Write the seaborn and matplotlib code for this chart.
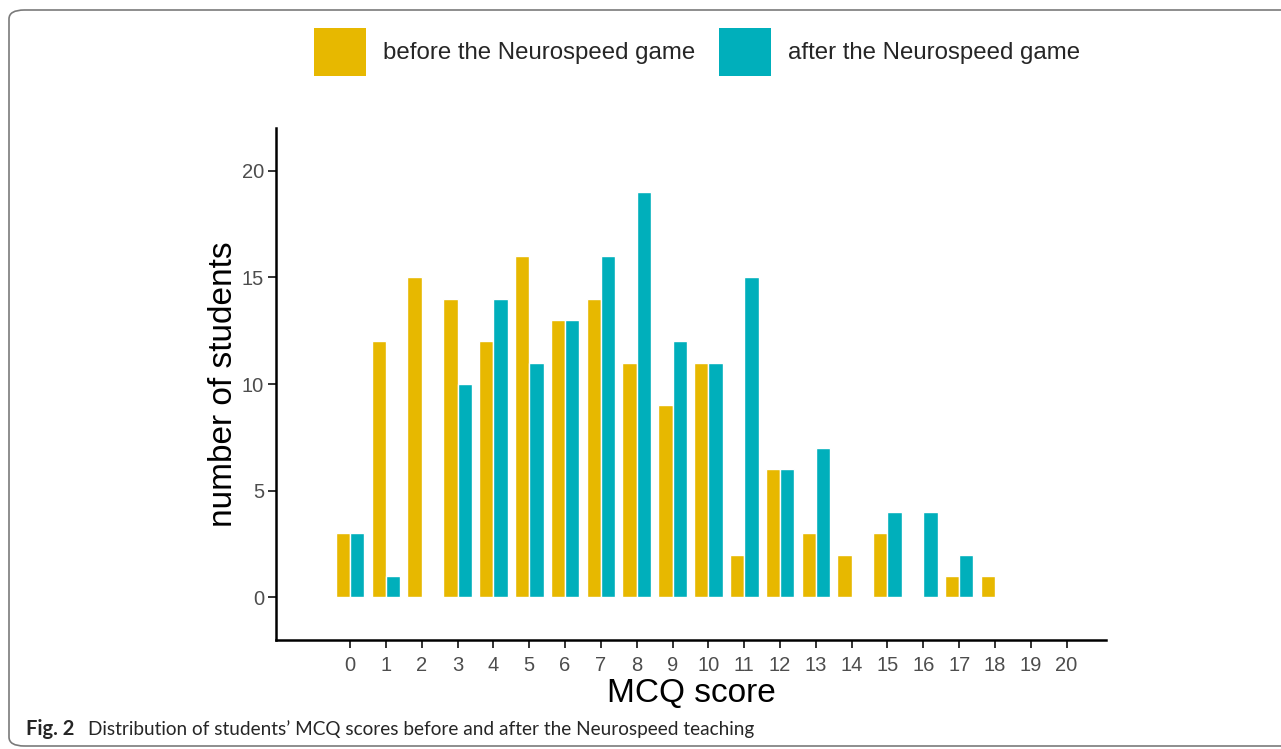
import matplotlib
matplotlib.use("Agg")
import matplotlib.pyplot as plt
from matplotlib.patches import Patch, FancyBboxPatch
import seaborn as sns
import pandas as pd

scores = list(range(21))
before = [3, 12, 15, 14, 12, 16, 13, 14, 11, 9, 11, 2, 6, 3, 2, 3, 0, 1, 1, 0, 0]
after = [3, 1, 0, 10, 14, 11, 13, 16, 19, 12, 11, 15, 6, 7, 0, 4, 4, 2, 0, 0, 0]
labels = ["before the Neurospeed game", "after the Neurospeed game"]
colors = ["#E7B800", "#00AFBB"]
yticks = [0, 5, 10, 15, 20]

df = pd.DataFrame({
    "score": scores * 2,
    "count": before + after,
    "period": [labels[0]] * len(scores) + [labels[1]] * len(scores),
})

sns.set_theme(style="white")
plt.rcParams["font.family"] = ["Liberation Sans", "DejaVu Sans"]

fig = plt.figure(figsize=(12.81, 7.49), dpi=100)
ax = fig.add_axes([276 / 1281, 1 - 640 / 749, (1106 - 276) / 1281, (640 - 128) / 749])

sns.barplot(data=df, x="score", y="count", hue="period", order=scores,
            hue_order=labels, palette=colors, width=0.8, edgecolor="white",
            linewidth=1.0, saturation=1, ax=ax, legend=False, errorbar=None)

ax.set_xlim(-2.07, 21.1)
ax.set_ylim(-2.0, 22.0)
ax.set_yticks(yticks)
ax.set_xticks(range(len(scores)))
ax.set_xticklabels([str(s) for s in scores])
for s in ["top", "right"]:
    ax.spines[s].set_visible(False)
for s in ["left", "bottom"]:
    ax.spines[s].set_color("black")
    ax.spines[s].set_linewidth(1.8)
ax.tick_params(axis="both", which="major", length=5.5, width=1.4, color="#333333",
               labelsize=14.5, labelcolor="#4D4D4D", bottom=True, left=True)
ax.tick_params(axis="x", pad=6)
ax.tick_params(axis="y", pad=3)
ax.set_xlabel("MCQ score", fontsize=24, color="black", labelpad=2.5)
ax.set_ylabel("number of students", fontsize=24, color="black", labelpad=2)
ax.grid(False)

handles = [Patch(facecolor=c, edgecolor="none") for c in colors]
fig.legend(handles, labels, loc="center", bbox_to_anchor=(697 / 1281, 1 - 52 / 749),
           ncol=2, frameon=False, fontsize=17.3, handlelength=2.17, handleheight=2.65,
           handletextpad=0.7, columnspacing=1.0)

box = FancyBboxPatch((9 / 1281, 3 / 749), 1.2, 1 - 13 / 749,
                     boxstyle="round,pad=0,rounding_size=0.012",
                     transform=fig.transFigure, facecolor="none",
                     edgecolor="#7A7A7A", linewidth=1.2, clip_on=False)
fig.patches.append(box)

fig.text(26 / 1281, 1 - 729 / 749, "Fig. 2", fontsize=14.5, fontweight="bold",
         family=["Lato", "DejaVu Sans"], va="center", ha="left")
fig.text(88 / 1281, 1 - 729 / 749,
         "Distribution of students\u2019 MCQ scores before and after the Neurospeed teaching",
         fontsize=13.7, family=["Lato", "DejaVu Sans"], va="center", ha="left")

fig.savefig("out.png", dpi=100)
